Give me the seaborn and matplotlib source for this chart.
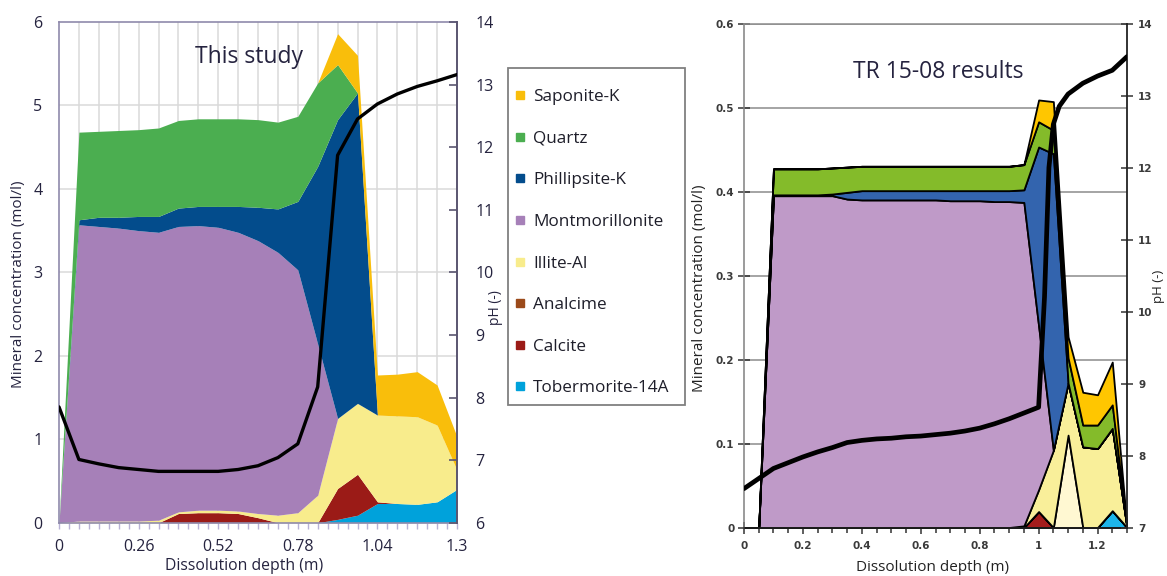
import matplotlib
matplotlib.use("Agg")
import matplotlib.pyplot as plt
from matplotlib.lines import Line2D
from matplotlib.patches import Rectangle
from matplotlib.ticker import MultipleLocator
import seaborn as sns

# ---------------- This study ----------------
depth = [0, 0.065, 0.13, 0.195, 0.26, 0.325, 0.39, 0.455, 0.52, 0.585, 0.65,
         0.715, 0.78, 0.845, 0.91, 0.975, 1.04, 1.105, 1.17, 1.235, 1.3]
tobermorite = [0, 0, 0, 0, 0, 0, 0, 0, 0, 0, 0, 0, 0, 0, 0.04, 0.09, 0.23, 0.23, 0.22, 0.25, 0.40]
calcite = [0, 0, 0, 0, 0, 0, 0.11, 0.12, 0.12, 0.11, 0.06, 0, 0, 0, 0.37, 0.49, 0.02, 0, 0, 0, 0]
analcime = [0] * 21
illite = [0, 0.02, 0.02, 0.02, 0.02, 0.03, 0.02, 0.03, 0.03, 0.03, 0.05, 0.09, 0.12, 0.33,
          0.84, 0.85, 1.04, 1.05, 1.05, 0.92, 0.23]
montmorillonite = [0, 3.55, 3.53, 3.51, 3.48, 3.45, 3.42, 3.41, 3.39, 3.34, 3.27, 3.15, 2.91,
                   1.81, 0, 0, 0, 0, 0, 0, 0]
phillipsite = [0, 0.06, 0.11, 0.13, 0.17, 0.19, 0.22, 0.23, 0.25, 0.31, 0.40, 0.52, 0.82,
               2.13, 3.58, 3.72, 0, 0, 0, 0, 0]
quartz = [0, 1.05, 1.03, 1.04, 1.04, 1.06, 1.05, 1.05, 1.05, 1.05, 1.05, 1.04, 1.02, 1.00,
          0.66, 0, 0, 0, 0, 0, 0]
saponite = [0, 0, 0, 0, 0, 0, 0, 0, 0, 0, 0, 0, 0, 0, 0.37, 0.45, 0.48, 0.50, 0.54, 0.48, 0.40]
ph = [7.85, 7.01, 6.94, 6.88, 6.85, 6.82, 6.82, 6.82, 6.82, 6.85, 6.91, 7.04, 7.26, 8.17,
      11.87, 12.45, 12.69, 12.85, 12.97, 13.06, 13.16]

# ---------------- TR 15-08 results ----------------
tr_depth = [0, 0.05, 0.1, 0.15, 0.2, 0.25, 0.3, 0.35, 0.4, 0.45, 0.5, 0.55, 0.6, 0.65,
            0.7, 0.75, 0.8, 0.85, 0.9, 0.95, 1.0, 1.05, 1.1, 1.15, 1.2, 1.25, 1.3]
tr_tobermorite = [0] * 25 + [0.02, 0]
tr_calcite = [0] * 20 + [0.019, 0, 0, 0, 0, 0, 0]
tr_pale = [0] * 22 + [0.11, 0, 0, 0, 0]
tr_illite = [0] * 19 + [0.002, 0.026, 0.092, 0.062, 0.096, 0.094, 0.098, 0]
tr_montmorillonite = [0, 0, 0.395, 0.395, 0.395, 0.395, 0.395, 0.391, 0.390, 0.390, 0.390,
                      0.390, 0.390, 0.390, 0.389, 0.389, 0.389, 0.388, 0.388, 0.385, 0.195,
                      0, 0, 0, 0, 0, 0]
tr_phillipsite = [0, 0, 0.001, 0.001, 0.001, 0.001, 0.002, 0.008, 0.011, 0.011, 0.011, 0.011,
                  0.011, 0.011, 0.012, 0.012, 0.012, 0.013, 0.013, 0.015, 0.213, 0.353,
                  0, 0, 0, 0, 0]
tr_quartz = [0, 0, 0.031, 0.031, 0.031, 0.031, 0.031, 0.030, 0.029, 0.029, 0.029, 0.029,
             0.029, 0.029, 0.029, 0.029, 0.029, 0.029, 0.029, 0.030, 0.030, 0.028, 0.030,
             0.026, 0.028, 0.028, 0]
tr_saponite = [0] * 20 + [0.026, 0.034, 0.025, 0.039, 0.036, 0.051, 0]
tr_ph_depth = [0, 0.05, 0.1, 0.15, 0.2, 0.25, 0.3, 0.35, 0.4, 0.45, 0.5, 0.55, 0.6, 0.65,
               0.7, 0.75, 0.8, 0.85, 0.9, 0.95, 1.0, 1.02, 1.035, 1.05, 1.07, 1.1, 1.15,
               1.2, 1.25, 1.3]
tr_ph = [7.54, 7.68, 7.82, 7.90, 7.98, 8.05, 8.11, 8.18, 8.21, 8.23, 8.24, 8.26, 8.27, 8.29,
         8.31, 8.34, 8.38, 8.44, 8.51, 8.59, 8.67, 10.2, 12.0, 12.6, 12.85, 13.02, 13.17,
         13.27, 13.35, 13.54]

minerals = ["Saponite-K", "Quartz", "Phillipsite-K", "Montmorillonite", "Illite-Al",
            "Analcime", "Calcite", "Tobermorite-14A"]
mineral_colors = ["#F9BE0B", "#4BAE50", "#034C8C", "#A680B8", "#F8EC8C",
                  "#9B4A1A", "#9B1B17", "#00A2DB"]

sns.set_theme(style="white")
plt.rcParams["font.family"] = ["Open Sans", "DejaVu Sans"]

W, H = 1167, 576
fig = plt.figure(figsize=(W / 100, H / 100), dpi=100)
fig.patch.set_facecolor("white")

navy = "#25233f"

# ================= left: This study =================
ax = fig.add_axes([59 / W, 1 - 522.7 / H, 398 / W, 500.7 / H])
stack = [tobermorite, calcite, analcime, illite, montmorillonite, phillipsite, quartz, saponite]
stack_colors = mineral_colors[::-1]
ax.stackplot(depth, *stack, colors=stack_colors, linewidth=0, zorder=2)
ax.set_xlim(0, 1.3)
ax.set_ylim(0, 6)
ax.set_axisbelow(True)
for gx in [i * 0.065 for i in range(1, 20)]:
    ax.axvline(gx, color="#dadada", lw=1.1, zorder=0)
for gy in range(1, 6):
    ax.axhline(gy, color="#dadada", lw=1.1, zorder=0)
ax.set_xticks([0, 0.26, 0.52, 0.78, 1.04, 1.3])
ax.set_xticklabels(["0", "0.26", "0.52", "0.78", "1.04", "1.3"])
ax.xaxis.set_minor_locator(MultipleLocator(0.0325))
ax.set_yticks(range(0, 7))
ax.tick_params(axis="x", which="both", direction="out", length=4, width=1,
               color="#b8b2d6", labelsize=11.5, labelcolor=navy, pad=8, bottom=True)
ax.tick_params(axis="y", length=0, labelsize=11.5, labelcolor=navy, pad=12)
for side in ["left", "top", "bottom"]:
    ax.spines[side].set_color("#8f8aab")
    ax.spines[side].set_linewidth(1.2)
ax.spines["right"].set_visible(False)
ax.set_xlabel("Dissolution depth (m)", fontsize=11.3, color=navy)
ax.xaxis.set_label_coords(0.466, -0.07)
ax.xaxis.label.set_va("top")
ax.set_ylabel("Mineral concentration (mol/l)", fontsize=11, color=navy)
ax.yaxis.set_label_coords(-0.084, 0.477)
ax.text(0.477, 0.93, "This study", transform=ax.transAxes, ha="center", va="center",
        fontsize=16.5, color=navy)

ax2 = ax.twinx()
sns.lineplot(x=depth, y=ph, ax=ax2, color="black", lw=2.4, zorder=5)
ax2.set_ylim(6, 14)
ax2.set_yticks(range(6, 15))
ax2.tick_params(axis="y", direction="in", length=6, width=1.2, color="#5a5570",
                labelsize=11.5, labelcolor=navy, pad=13)
for side in ["left", "top", "bottom"]:
    ax2.spines[side].set_visible(False)
ax2.spines["right"].set_color("#5a5570")
ax2.spines["right"].set_linewidth(1.4)
ax2.set_ylabel("pH (-)", fontsize=10, color=navy, rotation=90)
ax2.yaxis.set_label_coords(1.078, 0.43)

# legend with a plain rectangular frame
fig.add_artist(Rectangle((508 / W, 1 - 405 / H), 177 / W, 337 / H, transform=fig.transFigure,
                         fill=False, edgecolor="#808080", lw=1.3))
handles = [Line2D([0], [0], marker="s", linestyle="none", markersize=6,
                  markerfacecolor=c, markeredgecolor=c) for c in mineral_colors]
leg = fig.legend(handles, minerals, loc="upper left", bbox_to_anchor=(515.7 / W, 1 - 89 / H),
                 frameon=False, fontsize=12.3, labelspacing=1.5, handlelength=0.5,
                 handletextpad=0.51, borderpad=0, borderaxespad=0)
for t in leg.get_texts():
    t.set_color("#1e1e2a")

# ================= right: TR 15-08 results =================
bx = fig.add_axes([744 / W, 1 - 527.5 / H, 383 / W, 504 / H])
tr_stack = [tr_tobermorite, tr_calcite, tr_pale, tr_illite, tr_montmorillonite,
            tr_phillipsite, tr_quartz, tr_saponite]
tr_colors = ["#1DB5EA", "#A51C1C", "#FFF8D2", "#F9EF9A", "#BF9AC8", "#3364AE",
             "#84BB2A", "#FFC600"]
bx.stackplot(tr_depth, *tr_stack, colors=tr_colors, edgecolor="black", linewidth=1.3, zorder=2)
bx.set_xlim(0, 1.3)
bx.set_ylim(0, 0.6)
bx.set_axisbelow(True)
bx.yaxis.grid(True, color="#8c8c8c", lw=1.1)
bx.xaxis.grid(False)
bx.set_xticks([0, 0.2, 0.4, 0.6, 0.8, 1.0, 1.2])
bx.set_xticklabels(["0", "0.2", "0.4", "0.6", "0.8", "1", "1.2"])
bx.xaxis.set_minor_locator(MultipleLocator(0.05))
bx.set_yticks([0, 0.1, 0.2, 0.3, 0.4, 0.5, 0.6])
bx.set_yticklabels(["0", "0.1", "0.2", "0.3", "0.4", "0.5", "0.6"])
bx.tick_params(axis="both", which="major", direction="inout", length=8, width=1.1,
               color="#333333", labelsize=7.5, labelcolor="#3a3a3a", bottom=True, left=True)
bx.tick_params(axis="x", which="minor", direction="inout", length=7, width=1.1,
               color="#333333", bottom=True)
bx.tick_params(axis="x", which="major", pad=6)
bx.tick_params(axis="y", which="major", pad=3)
for t in bx.get_xticklabels() + bx.get_yticklabels():
    t.set_fontfamily("DejaVu Sans")
    t.set_fontweight("bold")
bx.spines["top"].set_color("#8c8c8c")
bx.spines["left"].set_color("#808080")
bx.spines["bottom"].set_color("#222222")
bx.spines["right"].set_visible(False)
for s in bx.spines.values():
    s.set_linewidth(1.1)
bx.set_xlabel("Dissolution depth (m)", fontsize=11, color="#222222")
bx.xaxis.set_label_coords(0.493, -0.064)
bx.xaxis.label.set_va("top")
bx.set_ylabel("Mineral concentration (mol/l)", fontsize=11, color="#222222")
bx.yaxis.set_label_coords(-0.096, 0.475)
bx.text(0.507, 0.904, "TR 15-08 results", transform=bx.transAxes, ha="center", va="center",
        fontsize=16.5, color=navy)

bx2 = bx.twinx()
sns.lineplot(x=tr_ph_depth, y=tr_ph, ax=bx2, color="black", lw=3.4, zorder=5)
bx2.set_ylim(7, 14)
bx2.set_yticks(range(7, 15))
bx2.tick_params(axis="y", direction="inout", length=8, width=1.1, color="#333333",
                labelsize=7.5, labelcolor="#3a3a3a", pad=4)
for t in bx2.get_yticklabels():
    t.set_fontfamily("DejaVu Sans")
    t.set_fontweight("bold")
for side in ["left", "top", "bottom"]:
    bx2.spines[side].set_visible(False)
bx2.spines["right"].set_color("#222222")
bx2.spines["right"].set_linewidth(1.3)
bx2.set_ylabel("pH (-)", fontsize=9.5, color="#222222", rotation=90)
bx2.yaxis.set_label_coords(1.066, 0.479)

fig.savefig("out.png", dpi=100, facecolor="white")
